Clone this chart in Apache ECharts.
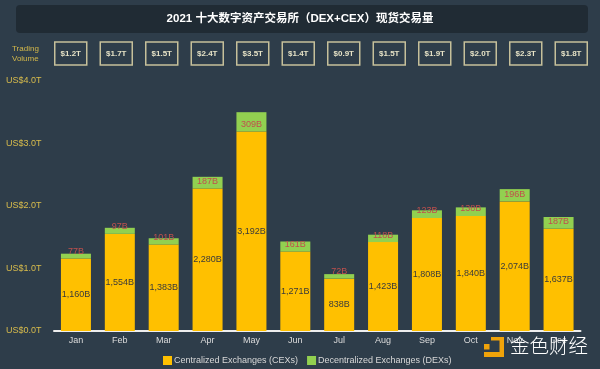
<!DOCTYPE html>
<html><head><meta charset="utf-8">
<script src="https://cdn.jsdelivr.net/npm/echarts@6/dist/echarts.min.js"></script>
<style>html,body{margin:0;padding:0;background:#2e3d4a}#c{width:600px;height:369px}</style>
</head><body><div id="c"></div>
<script>
const months = ['Jan','Feb','Mar','Apr','May','Jun','Jul','Aug','Sep','Oct','Nov','Dec'];
const cexValues = [1160,1554,1383,2280,3192,1271,838,1423,1808,1840,2074,1637];
const dexValues = [77,97,101,187,309,161,72,118,123,138,196,187];
const volumeLabels = ['$1.2T','$1.7T','$1.5T','$2.4T','$3.5T','$1.4T','$0.9T','$1.5T','$1.9T','$2.0T','$2.3T','$1.8T'];
const yTickLabels = ['US$0.0T','US$1.0T','US$2.0T','US$3.0T','US$4.0T'];
const seriesNames = ['Centralized Exchanges (CEXs)','Decentralized Exchanges (DEXs)'];

const FONT = '"Liberation Sans", Arial, sans-serif';
const chart = echarts.init(document.getElementById('c'));
chart.setOption({
  backgroundColor: '#2e3d4a',
  textStyle: { fontFamily: FONT },
  title: {
    text: '2021 十大数字资产交易所（DEX+CEX）现货交易量',
    left: 'center', top: 13, padding: 0,
    textStyle: { color: '#ffffff', fontSize: 11.5, fontWeight: 'bold', fontFamily: '"Liberation Sans", "Noto Sans CJK SC", sans-serif' }
  },
  graphic: [
    { type: 'rect', z: -1, shape: { x: 16, y: 5, width: 572, height: 28, r: 4 }, style: { fill: '#202b34' } },
    { type: 'text', left: 12, top: 44, style: { text: 'Trading\nVolume', fill: '#d4b84a', fontSize: 8, lineHeight: 10, align: 'center', fontFamily: FONT, width: 28 } },
    { type: 'text', left: 510, top: 336, z: 100, style: { text: '金色财经', fill: '#ffffff', fontSize: 19.5, fontFamily: '"Noto Sans CJK SC", sans-serif', fontWeight: 300 } },
    { type: 'rect', z: 100, shape: { x: 491, y: 337, width: 13, height: 3.5 }, style: { fill: '#f0a30a' } },
    { type: 'rect', z: 100, shape: { x: 499.5, y: 337, width: 4.5, height: 20 }, style: { fill: '#f0a30a' } },
    { type: 'rect', z: 100, shape: { x: 484, y: 352, width: 20, height: 5 }, style: { fill: '#f0a30a' } },
    { type: 'rect', z: 100, shape: { x: 484, y: 344, width: 5.5, height: 5.5 }, style: { fill: '#f0a30a' } }
  ],
  legend: {
    data: seriesNames, left: 158, top: 351, itemWidth: 9, itemHeight: 9, itemGap: 9, icon: 'rect',
    textStyle: { color: '#d8d8d8', fontSize: 9, padding: [0, 0, 0, -3] }
  },
  grid: [
    { left: 54, right: 19.5, top: 81, bottom: 38 },
    { left: 48, right: 6, top: 30, height: 12 }
  ],
  xAxis: [
    { type: 'category', data: months, gridIndex: 0,
      axisLine: { lineStyle: { color: '#eeeeee', width: 2 } },
      axisTick: { show: false },
      axisLabel: { color: '#dcdcdc', fontSize: 9, margin: 5 } },
    { type: 'category', data: volumeLabels, gridIndex: 1,
      axisLine: { show: false }, axisTick: { show: false }, splitLine: { show: false },
      axisLabel: { interval: 0, margin: 0, color: '#e6e2c6', fontSize: 8, fontWeight: 'bold',
        width: 32, height: 23, lineHeight: 23, align: 'center', verticalAlign: 'top',
        borderColor: '#c6c09a', borderWidth: 1.5 } }
  ],
  yAxis: [
    { type: 'value', gridIndex: 0, min: 0, max: 4000, interval: 1000,
      splitLine: { show: false }, axisLine: { show: false }, axisTick: { show: false },
      axisLabel: { color: '#d8bc4c', fontSize: 9, align: 'left', margin: 48,
        formatter: v => yTickLabels[Math.round(v / 1000)] } },
    { type: 'value', gridIndex: 1, show: false }
  ],
  series: [
    { name: seriesNames[0], type: 'bar', stack: 'total', barWidth: 30, data: cexValues,
      itemStyle: { color: '#ffc000' },
      label: { show: true, position: 'inside', color: '#3a3a3a', fontSize: 9,
        formatter: p => p.value.toLocaleString('en-US') + 'B' } },
    { name: seriesNames[1], type: 'bar', stack: 'total', barWidth: 30, data: dexValues,
      itemStyle: { color: '#92d050' },
      label: { show: true, position: 'insideBottom', distance: 2.5, color: '#c0504d', fontSize: 9,
        formatter: p => p.value + 'B' } }
  ]
});
</script></body></html>
